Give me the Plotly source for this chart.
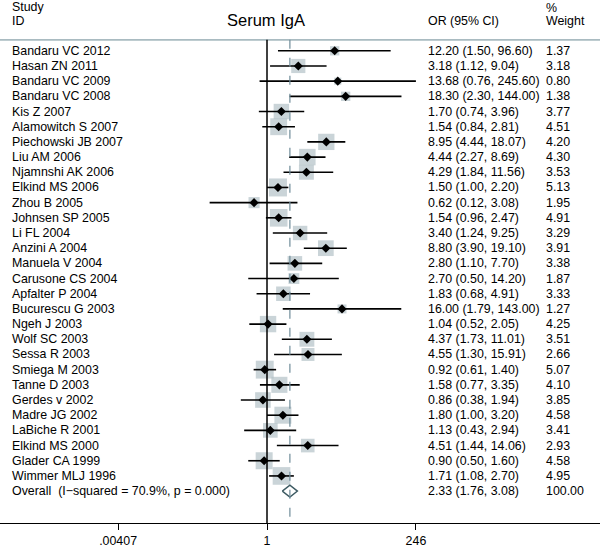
import plotly.graph_objects as go
import math

studies = ["Bandaru VC 2012", "Hasan ZN 2011", "Bandaru VC 2009", "Bandaru VC 2008",
           "Kis Z 2007", "Alamowitch S 2007", "Piechowski JB 2007", "Liu AM 2006",
           "Njamnshi AK 2006", "Elkind MS 2006", "Zhou B 2005", "Johnsen SP 2005",
           "Li FL 2004", "Anzini A 2004", "Manuela V 2004", "Carusone CS 2004",
           "Apfalter P 2004", "Bucurescu G 2003", "Ngeh J 2003", "Wolf SC 2003",
           "Sessa R 2003", "Smiega M 2003", "Tanne D 2003", "Gerdes v 2002",
           "Madre JG 2002", "LaBiche R 2001", "Elkind MS 2000", "Glader CA 1999",
           "Wimmer MLJ 1996"]
or_vals = [12.20, 3.18, 13.68, 18.30, 1.70, 1.54, 8.95, 4.44, 4.29, 1.50, 0.62, 1.54,
           3.40, 8.80, 2.80, 2.70, 1.83, 16.00, 1.04, 4.37, 4.55, 0.92, 1.58, 0.86,
           1.80, 1.13, 4.51, 0.90, 1.71]
ci_low = [1.50, 1.12, 0.76, 2.30, 0.74, 0.84, 4.44, 2.27, 1.84, 1.00, 0.12, 0.96,
          1.24, 3.90, 1.10, 0.50, 0.68, 1.79, 0.52, 1.73, 1.30, 0.61, 0.77, 0.38,
          1.00, 0.43, 1.44, 0.50, 1.08]
ci_high = [96.60, 9.04, 245.60, 144.00, 3.96, 2.81, 18.07, 8.69, 11.56, 2.20, 3.08, 2.47,
           9.25, 19.10, 7.70, 14.20, 4.91, 143.00, 2.05, 11.01, 15.91, 1.40, 3.35, 1.94,
           3.20, 2.94, 14.06, 1.60, 2.70]
weights = [1.37, 3.18, 0.80, 1.38, 3.77, 4.51, 4.20, 4.30, 3.53, 5.13, 1.95, 4.91,
           3.29, 3.91, 3.38, 1.87, 3.33, 1.27, 4.25, 3.51, 2.66, 5.07, 4.10, 3.85,
           4.58, 3.41, 2.93, 4.58, 4.95]
overall_label = "Overall  (I\u2212squared = 70.9%, p = 0.000)"
overall_or, overall_lo, overall_hi, overall_w = 2.33, 1.76, 3.08, 100.00
tick_vals = [0.00407, 1, 246]
tick_text = [".00407", "1", "246"]

W, H = 600, 548
FONT = "Liberation Sans, Arial, sans-serif"
n = len(studies)
rows = list(range(n))
overall_row = n

top_y = -0.72
bot_y = 31.10
y_top_range = -3.346
x_left = (0 - 267) / 62.3
x_right = (600 - 267) / 62.3

fig = go.Figure()

# weight squares (area proportional to weight)
fig.add_trace(go.Scatter(
    x=or_vals, y=rows, mode="markers",
    marker=dict(symbol="square", size=[18 * math.sqrt(w / 5.13) for w in weights],
                color="#b3c2c7", line=dict(width=0)),
    hoverinfo="skip", showlegend=False))

# CI lines
cx, cy = [], []
for lo, hi, r in zip(ci_low, ci_high, rows):
    cx += [lo, hi, None]
    cy += [r, r, None]
fig.add_trace(go.Scatter(x=cx, y=cy, mode="lines", line=dict(color="black", width=1.6),
                         hoverinfo="skip", showlegend=False))

# point estimates
fig.add_trace(go.Scatter(
    x=or_vals, y=rows, mode="markers",
    marker=dict(symbol="diamond", size=7, color="black"),
    hoverinfo="skip", showlegend=False))

# overall diamond
dh = 0.39
fig.add_trace(go.Scatter(
    x=[overall_lo, overall_or, overall_hi, overall_or, overall_lo],
    y=[overall_row, overall_row - dh, overall_row, overall_row + dh, overall_row],
    mode="lines", line=dict(color="#3d5a62", width=1.4),
    hoverinfo="skip", showlegend=False))

shapes = [
    dict(type="rect", xref="paper", yref="y", x0=0, x1=1, y0=top_y - 0.06, y1=top_y + 0.06,
         fillcolor="#a9bbc1", line=dict(width=0), layer="above"),
    dict(type="line", xref="x", yref="y", x0=1, x1=1, y0=top_y, y1=bot_y,
         line=dict(color="black", width=1.5)),
    dict(type="line", xref="x", yref="y", x0=overall_or, x1=overall_or, y0=top_y, y1=bot_y,
         line=dict(color="#6f8c99", width=1.2, dash="dash")),
]

ann = []
fs = 12.4
def add_text(x_px, y_row, text, size=fs, anchor="left"):
    ann.append(dict(x=x_px / W, y=y_row, xref="paper", yref="y", text=text,
                    showarrow=False, xanchor=anchor, yanchor="middle",
                    font=dict(family=FONT, size=size, color="black")))

for r, s, o, lo, hi, w in zip(rows, studies, or_vals, ci_low, ci_high, weights):
    add_text(10, r, s)
    add_text(426, r, f"{o:.2f} ({lo:.2f}, {hi:.2f})")
    add_text(544, r, f"{w:.2f}")
add_text(10, overall_row, overall_label)
add_text(426, overall_row, f"{overall_or:.2f} ({overall_lo:.2f}, {overall_hi:.2f})")
add_text(544, overall_row, f"{overall_w:.2f}")

add_text(10, -2.89, "Study")
add_text(10, -1.97, "ID")
add_text(266, -2.03, "Serum IgA", size=16.5, anchor="center")
add_text(426, -1.97, "OR (95% CI)")
add_text(544, -2.82, "%")
add_text(544, -1.97, "Weight")

fig.update_layout(
    width=W, height=H,
    margin=dict(l=0, r=0, t=0, b=23),
    paper_bgcolor="white", plot_bgcolor="white",
    shapes=shapes, annotations=ann,
    xaxis=dict(type="log", range=[x_left, x_right], tickvals=tick_vals, ticktext=tick_text,
               ticks="outside", ticklen=6, tickcolor="black", tickwidth=1,
               showline=True, linecolor="black", linewidth=1, showgrid=False, zeroline=False,
               tickfont=dict(family=FONT, size=12.4, color="black")),
    yaxis=dict(range=[bot_y, y_top_range], visible=False, showgrid=False, zeroline=False),
)

fig.write_html("out.html", config={"displayModeBar": False},
               post_script="document.body.style.margin='0';document.body.style.overflow='hidden';")
